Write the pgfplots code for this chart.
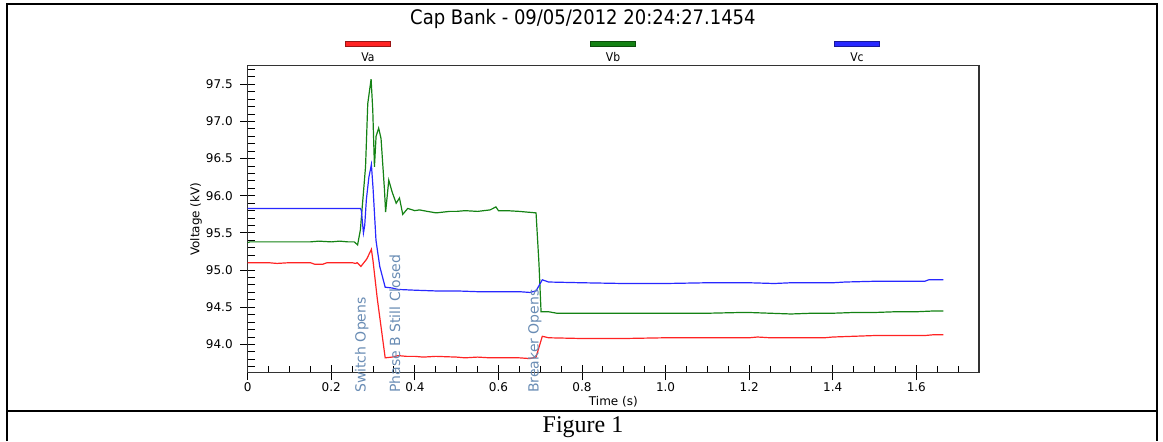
\documentclass[border=0pt]{standalone}
\usepackage{pgfplots}
\pgfplotsset{compat=1.18}
\usepackage{fontspec}
\setmainfont{DejaVu Sans}
\newfontfamily\condfont{DejaVu Sans Condensed}
\newfontfamily\capfont{Liberation Serif}
\definecolor{va}{RGB}{255,35,35}
\definecolor{vb}{RGB}{20,130,20}
\definecolor{vc}{RGB}{40,40,255}
\definecolor{annot}{RGB}{105,140,180}
\begin{document}
\begin{tikzpicture}
\useasboundingbox (0,0) rectangle (581.5pt,220.5pt);
% table frame
\draw[line width=1pt] (3.5pt,0) -- (3.5pt,218.5pt) -- (578.5pt,218.5pt) -- (578.5pt,0);
\draw[line width=1.2pt] (3.5pt,15pt) -- (578.5pt,15pt);
\node[font=\capfont\fontsize{12}{13}\selectfont] at (291.5pt,7pt) {Figure 1};
% title
\node[font=\condfont\fontsize{10}{11}\selectfont] at (291.5pt,211pt) {Cap Bank - 09/05/2012 20:24:27.1454};
% legend
\foreach \cx/\col/\lab in {184/va/Va, 306.5/vb/Vb, 428.5/vc/Vc}{
  \filldraw[fill=\col, draw=\col!60!black, line width=0.4pt] (\cx pt-11.25pt,197.3pt) rectangle (\cx pt+11.25pt,199.7pt);
  \node[font=\condfont\fontsize{6}{7}\selectfont] at (\cx pt,192pt) {\lab};
}
\begin{axis}[
  at={(123.85pt,34.15pt)}, anchor=south west,
  scale only axis, width=365.65pt, height=153.5pt,
  xmin=0, xmax=1.75, ymin=93.62, ymax=97.75,
  xtick={0,0.2,0.4,0.6,0.8,1.0,1.2,1.4,1.6},
  xticklabels={0,0.2,0.4,0.6,0.8,1.0,1.2,1.4,1.6},
  ytick={94,94.5,95,95.5,96,96.5,97,97.5},
  yticklabels={94.0,94.5,95.0,95.5,96.0,96.5,97.0,97.5},
  minor xtick={0.05,0.1,0.15,0.25,0.3,0.35,0.45,0.5,0.55,0.65,0.7,0.75,0.85,0.9,0.95,1.05,1.1,1.15,1.25,1.3,1.35,1.45,1.5,1.55,1.65,1.7},
  minor ytick={93.7,93.8,93.9,94.1,94.2,94.3,94.4,94.6,94.7,94.8,94.9,95.1,95.2,95.3,95.4,95.6,95.7,95.8,95.9,96.1,96.2,96.3,96.4,96.6,96.7,96.8,96.9,97.1,97.2,97.3,97.4,97.6,97.7},
  tick pos=left,
  tick align=inside,
  major tick length=7.5pt, minor tick length=3.5pt,
  every major x tick/.append style={yshift=-3.75pt},
  every major y tick/.append style={xshift=-3.75pt},
  tick style={black, line width=0.5pt},
  axis line style={draw=black!80, line width=0.6pt},
  ticklabel style={font=\fontsize{6}{7}\selectfont},
  xticklabel style={anchor=center, yshift=-7.15pt},
  yticklabel style={anchor=east, inner sep=0pt, xshift=-7.3pt},
  /pgf/number format/assume math mode=true,
  xlabel={Time (s)}, ylabel={Voltage (kV)},
  label style={font=\fontsize{6}{7}\selectfont},
  xlabel style={at={(axis description cs:0.5,-0.0954)}, anchor=center},
  ylabel style={at={(axis description cs:-0.0707,0.5)}, anchor=center},
  clip=false,
]
% Va
\addplot[va, line width=0.6pt] coordinates {
(0,95.10) (0.05,95.10) (0.07,95.09) (0.10,95.10) (0.15,95.10) (0.16,95.08) (0.18,95.08) (0.19,95.10)
(0.25,95.10) (0.258,95.09) (0.262,95.10) (0.271,95.05) (0.285,95.15) (0.296,95.28) (0.300,95.12)
(0.31,94.62) (0.32,94.20) (0.329,93.82) (0.345,93.83) (0.36,93.85) (0.38,93.84) (0.40,93.84) (0.42,93.83)
(0.45,93.84) (0.50,93.83) (0.52,93.82) (0.55,93.83) (0.58,93.82) (0.62,93.82) (0.65,93.82) (0.675,93.81)
(0.69,93.83) (0.705,94.11) (0.72,94.09) (0.80,94.08) (0.90,94.08) (1.00,94.09) (1.20,94.09) (1.22,94.10)
(1.25,94.09) (1.30,94.09) (1.38,94.09) (1.40,94.10) (1.45,94.11) (1.50,94.12) (1.62,94.12) (1.64,94.13) (1.665,94.13)
};
% Vb
\addplot[vb, line width=0.6pt] coordinates {
(0,95.37) (0.005,95.38) (0.10,95.38) (0.15,95.38) (0.17,95.39) (0.20,95.38) (0.22,95.39) (0.24,95.38)
(0.255,95.38) (0.263,95.34) (0.2696,95.54) (0.282,96.39) (0.2873,97.24) (0.2953,97.57) (0.2993,97.15)
(0.3033,96.39) (0.3072,96.80) (0.3134,96.91) (0.3191,96.77) (0.3273,96.08) (0.330,95.78) (0.3376,96.21)
(0.3457,96.05) (0.3553,95.90) (0.3632,95.97) (0.371,95.75) (0.383,95.83) (0.40,95.80) (0.411,95.81)
(0.43,95.79) (0.451,95.77) (0.483,95.79) (0.50,95.79) (0.52,95.80) (0.55,95.79) (0.58,95.81) (0.594,95.85)
(0.60,95.80) (0.62,95.80) (0.65,95.79) (0.67,95.78) (0.69,95.77) (0.697,95.09) (0.702,94.44) (0.72,94.44)
(0.74,94.42) (0.80,94.42) (0.90,94.42) (1.00,94.42) (1.10,94.42) (1.18,94.43) (1.20,94.43) (1.25,94.42)
(1.30,94.41) (1.35,94.42) (1.40,94.42) (1.45,94.43) (1.50,94.43) (1.55,94.44) (1.60,94.44) (1.64,94.45) (1.665,94.45)
};
% Vc
\addplot[vc, line width=0.6pt] coordinates {
(0,95.83) (0.10,95.83) (0.20,95.83) (0.27,95.83) (0.272,95.80) (0.277,95.50) (0.280,95.60)
(0.284,95.95) (0.290,96.25) (0.296,96.42) (0.300,96.10) (0.307,95.40) (0.316,95.05) (0.329,94.77)
(0.345,94.76) (0.36,94.74) (0.40,94.73) (0.45,94.72) (0.50,94.72) (0.55,94.71) (0.60,94.71) (0.65,94.71)
(0.675,94.70) (0.69,94.72) (0.705,94.87) (0.72,94.84) (0.80,94.83) (0.90,94.82) (0.95,94.82) (1.00,94.82)
(1.10,94.83) (1.20,94.83) (1.26,94.82) (1.30,94.83) (1.40,94.83) (1.43,94.84) (1.50,94.85) (1.62,94.85)
(1.63,94.87) (1.665,94.87)
};
\begin{scope}[every node/.style={rotate=90, anchor=west, inner sep=0pt, text=annot, font=\fontsize{7}{8}\selectfont}]
\node at (axis cs:0.273,93.345) {Switch Opens};
\node at (axis cs:0.352,93.345) {Phase B Still Closed};
\node at (axis cs:0.687,93.345) {Breaker Opens};
\end{scope}
\end{axis}
\end{tikzpicture}
\end{document}
